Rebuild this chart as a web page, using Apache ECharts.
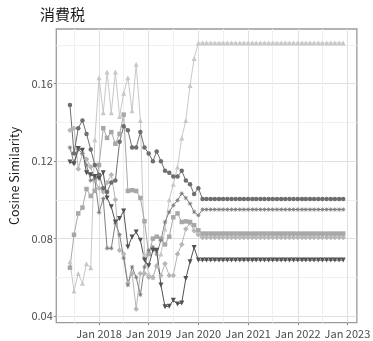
<!DOCTYPE html>
<html>
<head>
<meta charset="utf-8">
<script src="https://cdn.jsdelivr.net/npm/echarts@6/dist/echarts.min.js"></script>
<style>
  html, body { margin: 0; padding: 0; background: #ffffff; }
  #chart { width: 373px; height: 341px; }
</style>
</head>
<body>
<div id="chart"></div>
<script>
// Monthly observations, Jun 2017 – Dec 2022
const months = [];
for (let i = 0; i < 67; i++) months.push(Date.UTC(2017, 5 + i, 1));

const seriesTriUp = [
  0.068, 0.053, 0.062, 0.057, 0.067, 0.065, 0.131, 0.163, 0.145, 0.166, 0.145, 0.166,
  0.143, 0.155, 0.163, 0.146, 0.170, 0.141, 0.072, 0.062, 0.060, 0.066, 0.072, 0.085,
  0.100, 0.108, 0.117, 0.132, 0.141, 0.159, 0.173, 0.181,
  0.181, 0.181, 0.181, 0.181, 0.181, 0.181, 0.181, 0.181, 0.181, 0.181, 0.181, 0.181,
  0.181, 0.181, 0.181, 0.181, 0.181, 0.181, 0.181, 0.181, 0.181, 0.181, 0.181, 0.181,
  0.181, 0.181, 0.181, 0.181, 0.181, 0.181, 0.181, 0.181, 0.181, 0.181, 0.181
];
const seriesDiamond = [
  0.136, 0.137, 0.116, 0.124, 0.121, 0.117, 0.110, 0.106, 0.104, 0.109, 0.113, 0.100,
  0.074, 0.072, 0.057, 0.062, 0.0437, 0.062, 0.062, 0.060, 0.060, 0.066, 0.061, 0.067,
  0.061, 0.061, 0.072, 0.077, 0.085, 0.088, 0.084, 0.082,
  0.0806, 0.0806, 0.0806, 0.0806, 0.0806, 0.0806, 0.0806, 0.0806, 0.0806, 0.0806, 0.0806, 0.0806,
  0.0806, 0.0806, 0.0806, 0.0806, 0.0806, 0.0806, 0.0806, 0.0806, 0.0806, 0.0806, 0.0806, 0.0806,
  0.0806, 0.0806, 0.0806, 0.0806, 0.0806, 0.0806, 0.0806, 0.0806, 0.0806, 0.0806, 0.0806
];
const seriesSquare = [
  0.065, 0.082, 0.093, 0.096, 0.1056, 0.102, 0.1046, 0.118, 0.137, 0.132, 0.135, 0.129,
  0.134, 0.144, 0.1046, 0.105, 0.1046, 0.101, 0.089, 0.072, 0.080, 0.081, 0.080, 0.077,
  0.081, 0.091, 0.093, 0.0886, 0.0889, 0.0886, 0.0869, 0.0843,
  0.0826, 0.0826, 0.0826, 0.0826, 0.0826, 0.0826, 0.0826, 0.0826, 0.0826, 0.0826, 0.0826, 0.0826,
  0.0826, 0.0826, 0.0826, 0.0826, 0.0826, 0.0826, 0.0826, 0.0826, 0.0826, 0.0826, 0.0826, 0.0826,
  0.0826, 0.0826, 0.0826, 0.0826, 0.0826, 0.0826, 0.0826, 0.0826, 0.0826, 0.0826, 0.0826
];
const seriesStar = [
  0.127, 0.119, 0.126, 0.124, 0.118, 0.110, 0.111, 0.0935, 0.1007, 0.075, 0.075, 0.088,
  0.082, 0.070, 0.056, 0.0654, 0.060, 0.051, 0.0654, 0.074, 0.0757, 0.072, 0.0792, 0.0886,
  0.0938, 0.0972, 0.0998, 0.1033, 0.101, 0.098, 0.0938, 0.092,
  0.095, 0.095, 0.095, 0.095, 0.095, 0.095, 0.095, 0.095, 0.095, 0.095, 0.095, 0.095,
  0.095, 0.095, 0.095, 0.095, 0.095, 0.095, 0.095, 0.095, 0.095, 0.095, 0.095, 0.095,
  0.095, 0.095, 0.095, 0.095, 0.095, 0.095, 0.095, 0.095, 0.095, 0.095, 0.095
];
const seriesCircle = [
  0.149, 0.124, 0.137, 0.141, 0.134, 0.126, 0.118, 0.113, 0.106, 0.104, 0.109, 0.110,
  0.130, 0.138, 0.136, 0.127, 0.127, 0.135, 0.127, 0.124, 0.120, 0.125, 0.120, 0.115,
  0.114, 0.112, 0.112, 0.115, 0.110, 0.108, 0.103, 0.106,
  0.1005, 0.1005, 0.1005, 0.1005, 0.1005, 0.1005, 0.1005, 0.1005, 0.1005, 0.1005, 0.1005, 0.1005,
  0.1005, 0.1005, 0.1005, 0.1005, 0.1005, 0.1005, 0.1005, 0.1005, 0.1005, 0.1005, 0.1005, 0.1005,
  0.1005, 0.1005, 0.1005, 0.1005, 0.1005, 0.1005, 0.1005, 0.1005, 0.1005, 0.1005, 0.1005
];
const seriesTriDown = [
  0.1196, 0.1187, 0.1265, 0.1256, 0.114, 0.113, 0.112, 0.111, 0.114, 0.101, 0.0964, 0.0886,
  0.0904, 0.0943, 0.0757, 0.0809, 0.0834, 0.0792, 0.069, 0.066, 0.074, 0.074, 0.056, 0.0448,
  0.0451, 0.0482, 0.0462, 0.0468, 0.0594, 0.068, 0.0754, 0.0689,
  0.0689, 0.0689, 0.0689, 0.0689, 0.0689, 0.0689, 0.0689, 0.0689, 0.0689, 0.0689, 0.0689, 0.0689,
  0.0689, 0.0689, 0.0689, 0.0689, 0.0689, 0.0689, 0.0689, 0.0689, 0.0689, 0.0689, 0.0689, 0.0689,
  0.0689, 0.0689, 0.0689, 0.0689, 0.0689, 0.0689, 0.0689, 0.0689, 0.0689, 0.0689, 0.0689
];

// Axis ticks: major labels each January, minor grid each July
const yearTicks = [2018, 2019, 2020, 2021, 2022, 2023].map(y => Date.UTC(y, 0, 1));
const midYearTicks = [2017, 2018, 2019, 2020, 2021, 2022].map(y => Date.UTC(y, 6, 1));
const yTicks = [0.04, 0.08, 0.12, 0.16];
const yMinorTicks = [0.06, 0.10, 0.14, 0.18];
const monthNames = ['Jan','Feb','Mar','Apr','May','Jun','Jul','Aug','Sep','Oct','Nov','Dec'];

// Axis extents padded by 5% of the data range on each side
const xPad = (months[months.length - 1] - months[0]) * 0.05;
const xMin = months[0] - xPad;
const xMax = months[months.length - 1] + xPad;
const yMin = 0.0366, yMax = 0.1882;

const FONT = '"Noto Sans CJK JP", "Noto Sans", sans-serif';
const STAR = 'path://M10,5L6.66,4.31L8.54,1.46L5.69,3.34L5,0L4.31,3.34L1.46,1.46L3.34,4.31L0,5L3.34,5.69L1.46,8.54L4.31,6.66L5,10L5.69,6.66L8.54,8.54L6.66,5.69Z';

function lineSeries(values, color, symbol, size, extra) {
  return Object.assign({
    type: 'line',
    data: months.map((t, i) => [t, values[i]]),
    symbol: symbol,
    symbolSize: size,
    showSymbol: true,
    lineStyle: { color: color, width: 1 },
    itemStyle: { color: color },
    z: 3,
    animation: false
  }, extra || {});
}

const chart = echarts.init(document.getElementById('chart'), null, { renderer: 'canvas' });
chart.setOption({
  backgroundColor: '#ffffff',
  animation: false,
  title: {
    text: '消費税',
    left: 35, top: 2,
    textStyle: { fontFamily: FONT, fontSize: 15, fontWeight: 'normal', color: '#1a1a1a' }
  },
  grid: {
    left: 48.3, right: 8, top: 29, bottom: 18.3,
    show: true, borderColor: '#9a9a9a', borderWidth: 1.3, backgroundColor: 'transparent'
  },
  xAxis: [
    {
      type: 'value', min: xMin, max: xMax,
      axisLine: { show: false },
      axisTick: { show: true, length: 2.5, customValues: yearTicks, lineStyle: { color: '#8a8a8a' } },
      axisLabel: {
        customValues: yearTicks,
        margin: 5.5,
        fontFamily: FONT, fontSize: 11, color: '#4d4d4d',
        formatter: v => { const d = new Date(v); return monthNames[d.getUTCMonth()] + ' ' + d.getUTCFullYear(); }
      },
      splitLine: { show: true, lineStyle: { color: '#e0e0e0', width: 1 } }
    },
    {
      type: 'value', min: xMin, max: xMax, position: 'bottom',
      axisLine: { show: false },
      axisTick: { show: false, customValues: midYearTicks },
      axisLabel: { show: false, customValues: midYearTicks },
      splitLine: { show: true, lineStyle: { color: '#f0f0f0', width: 1 } }
    }
  ],
  yAxis: [
    {
      type: 'value', min: yMin, max: yMax,
      name: 'Cosine Similarity', nameLocation: 'middle', nameGap: 31,
      nameTextStyle: { fontFamily: FONT, fontSize: 12.5, color: '#1a1a1a' },
      axisLine: { show: false },
      axisTick: { show: true, length: 2.5, customValues: yTicks, lineStyle: { color: '#8a8a8a' } },
      axisLabel: {
        customValues: yTicks, margin: 3.5,
        fontFamily: FONT, fontSize: 11, color: '#4d4d4d',
        formatter: v => v.toFixed(2)
      },
      splitLine: { show: true, lineStyle: { color: '#e0e0e0', width: 1 } }
    },
    {
      type: 'value', min: yMin, max: yMax, position: 'left',
      axisLine: { show: false },
      axisTick: { show: false, customValues: yMinorTicks },
      axisLabel: { show: false, customValues: yMinorTicks },
      splitLine: { show: true, lineStyle: { color: '#f0f0f0', width: 1 } }
    }
  ],
  series: [
    lineSeries(seriesTriUp, '#c8c8c8', 'triangle', 5),
    lineSeries(seriesDiamond, '#b6b6b6', 'diamond', 5.5),
    lineSeries(seriesSquare, '#a8a8a8', 'rect', 4.5),
    lineSeries(seriesStar, '#808080', STAR, 6),
    lineSeries(seriesCircle, '#6e6e6e', 'circle', 4.5),
    lineSeries(seriesTriDown, '#525252', 'triangle', 5, { symbolRotate: 180 })
  ]
});
</script>
</body>
</html>
